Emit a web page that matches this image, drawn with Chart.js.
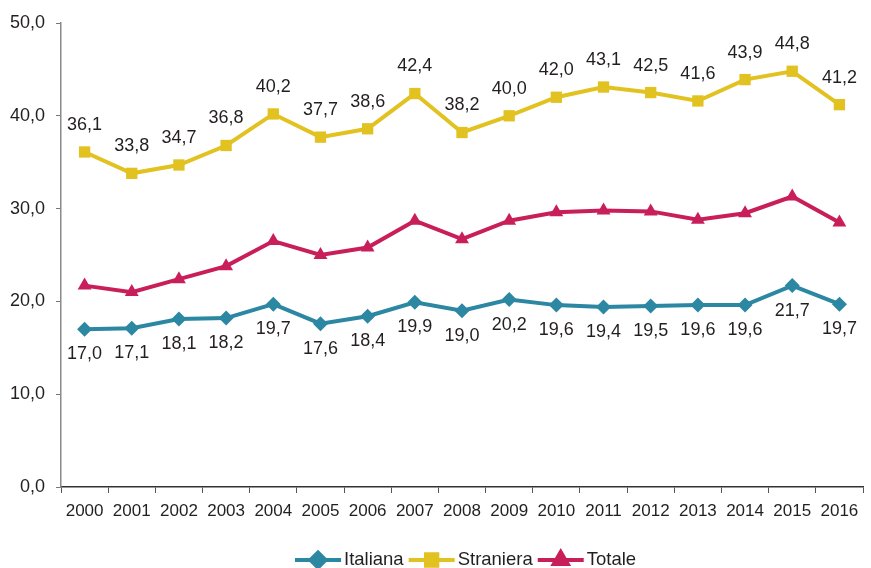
<!DOCTYPE html>
<html>
<head>
<meta charset="utf-8">
<script src="https://cdn.jsdelivr.net/npm/chart.js@4"></script>
<style>
  html, body { margin: 0; padding: 0; background: #fff; }
  #wrap { width: 871px; height: 568px; position: relative; }
</style>
</head>
<body>
<div id="wrap"><canvas id="chart"></canvas></div>
<script>
  var years = ['2000','2001','2002','2003','2004','2005','2006','2007','2008','2009','2010','2011','2012','2013','2014','2015','2016'];
  var italiana = [17.0, 17.1, 18.1, 18.2, 19.7, 17.6, 18.4, 19.9, 19.0, 20.2, 19.6, 19.4, 19.5, 19.6, 19.6, 21.7, 19.7];
  var straniera = [36.1, 33.8, 34.7, 36.8, 40.2, 37.7, 38.6, 42.4, 38.2, 40.0, 42.0, 43.1, 42.5, 41.6, 43.9, 44.8, 41.2];
  var totale = [21.7, 21.0, 22.4, 23.8, 26.5, 25.0, 25.8, 28.7, 26.7, 28.7, 29.6, 29.8, 29.7, 28.8, 29.5, 31.3, 28.5];

  var FONT = '"Liberation Sans", Arial, sans-serif';
  var TEXT = '#231f20';

  function fmt(v) { return v.toFixed(1).replace('.', ','); }

  // value labels: Italiana below the point, Straniera above
  var valueLabels = {
    id: 'valueLabels',
    afterDatasetsDraw: function(chart) {
      var ctx = chart.ctx;
      ctx.save();
      ctx.font = '18px ' + FONT;
      ctx.fillStyle = TEXT;
      ctx.textAlign = 'center';
      ctx.textBaseline = 'middle';
      chart.data.datasets.forEach(function(ds, i) {
        if (!ds.labelPos) return;
        var meta = chart.getDatasetMeta(i);
        meta.data.forEach(function(pt, j) {
          var dy = ds.labelPos === 'below' ? 25 : -27;
          ctx.fillText(fmt(ds.data[j]), pt.x, pt.y + dy);
        });
      });
      ctx.restore();
    }
  };

  function drawMarker(ctx, ds, cx, cy) {
    ctx.fillStyle = ds.backgroundColor;
    ctx.strokeStyle = ds.backgroundColor;
    Chart.helpers.drawPoint(ctx, {
      pointStyle: ds.pointStyle,
      radius: ds.pointRadius,
      rotation: 0,
      borderWidth: 1
    }, cx, cy);
  }

  // legend with line + marker, as in the original
  var lineLegend = {
    id: 'lineLegend',
    afterDraw: function(chart) {
      var ctx = chart.ctx;
      var items = chart.data.datasets;
      var lineLen = 46, gap = 3, itemGap = 5;
      ctx.save();
      ctx.font = '18.5px ' + FONT;
      var x = 295;
      var y = chart.height - 8;
      items.forEach(function(ds) {
        ctx.strokeStyle = ds.borderColor;
        ctx.lineWidth = 4;
        ctx.beginPath();
        ctx.moveTo(x, y);
        ctx.lineTo(x + lineLen, y);
        ctx.stroke();
        drawMarker(ctx, ds, x + lineLen / 2, y);
        ctx.fillStyle = TEXT;
        ctx.textAlign = 'left';
        ctx.textBaseline = 'middle';
        ctx.fillText(ds.label, x + lineLen + gap, y);
        x += lineLen + gap + ctx.measureText(ds.label).width + itemGap;
      });
      ctx.restore();
    }
  };

  new Chart(document.getElementById('chart'), {
    type: 'line',
    data: {
      labels: years,
      datasets: [
        {
          label: 'Italiana', data: italiana, labelPos: 'below',
          borderColor: '#2b87a2', backgroundColor: '#2b87a2',
          borderWidth: 4, pointStyle: 'rectRot', pointRadius: 7.5, pointHoverRadius: 7.5,
          pointBorderWidth: 0
        },
        {
          label: 'Straniera', data: straniera, labelPos: 'above',
          borderColor: '#e2c220', backgroundColor: '#e2c220',
          borderWidth: 4, pointStyle: 'rect', pointRadius: 8, pointHoverRadius: 8,
          pointBorderWidth: 0
        },
        {
          label: 'Totale', data: totale,
          borderColor: '#c81f5a', backgroundColor: '#c81f5a',
          borderWidth: 4, pointStyle: 'triangle', pointRadius: 8, pointHoverRadius: 8,
          pointBorderWidth: 0
        }
      ]
    },
    options: {
      responsive: true,
      maintainAspectRatio: false,
      animation: false,
      layout: { padding: { top: 23, right: 1, bottom: 40, left: 0 } },
      elements: { line: { tension: 0 } },
      plugins: {
        legend: { display: false },
        tooltip: { enabled: false }
      },
      scales: {
        x: {
          offset: true,
          grid: { display: true, offset: true, drawOnChartArea: false, tickLength: 6, color: '#555' },
          border: { color: '#333', width: 1.5 },
          ticks: { color: TEXT, font: { family: FONT, size: 17 }, padding: 8, maxRotation: 0, autoSkip: false },
          afterFit: function(s) { s.height = 41; }
        },
        y: {
          min: 0, max: 50,
          grid: { display: true, drawOnChartArea: false, tickLength: 5, color: '#777' },
          border: { color: '#8a8a8a', width: 1.5 },
          ticks: { stepSize: 10, color: TEXT, font: { family: FONT, size: 18 }, padding: 11,
                   callback: function(v) { return fmt(v); } },
          afterFit: function(s) { s.width = 61; }
        }
      }
    },
    plugins: [valueLabels, lineLegend]
  });
</script>
</body>
</html>
